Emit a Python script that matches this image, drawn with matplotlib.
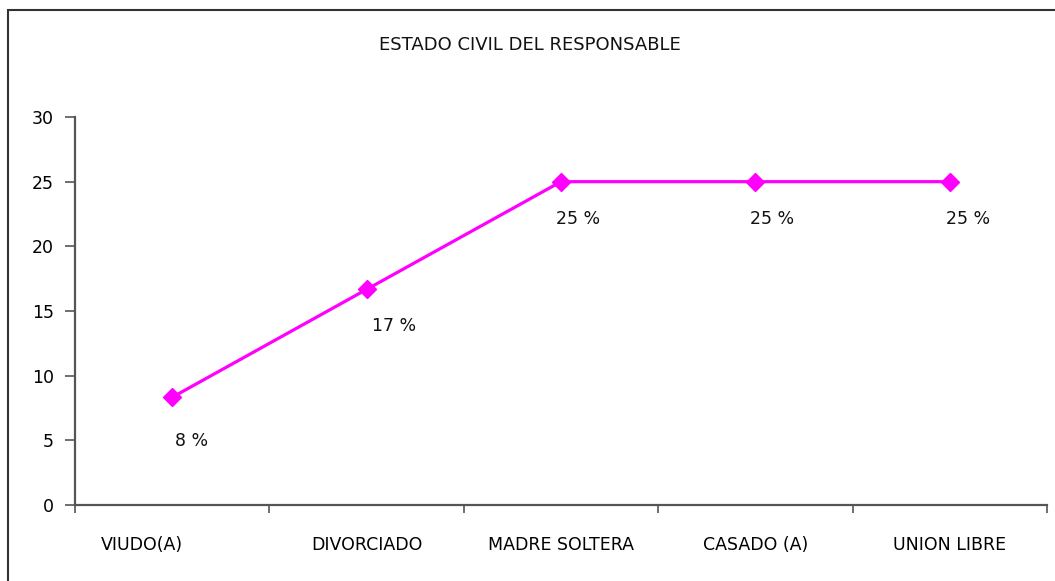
import matplotlib
matplotlib.use("Agg")
import matplotlib.pyplot as plt
from matplotlib.patches import Rectangle
from matplotlib.transforms import ScaledTranslation

categories = ["VIUDO(A)", "DIVORCIADO", "MADRE SOLTERA", "CASADO (A)", "UNION LIBRE"]
values = [8.33, 16.67, 25.0, 25.0, 25.0]
point_labels = ["8 %", "17 %", "25 %", "25 %", "25 %"]
y_ticks = [0, 5, 10, 15, 20, 25, 30]

W, H = 1055, 581
fig = plt.figure(figsize=(W / 100, H / 100), dpi=100)
fig.patch.set_facecolor("white")

# outer chart frame (only left/top edges visible in the reference)
fig.patches.append(
    Rectangle((8 / W, -0.05), 1.1, 1 - 10 / H + 0.05, transform=fig.transFigure,
              fill=False, edgecolor="#333333", linewidth=1.5)
)

left, right = 75 / W, 1047 / W
bottom, top = 1 - 505 / H, 1 - 117 / H
ax = fig.add_axes([left, bottom, right - left, top - bottom])

x = list(range(len(categories)))
ax.plot(x, values, color="#ff00ff", linewidth=2.3, marker="D",
        markersize=9, markerfacecolor="#ff00ff", markeredgecolor="#ff00ff",
        clip_on=False, zorder=3)

offsets = [(19, -44), (27, -37), (17, -37), (17, -37), (18, -37)]
for xi, v, lab, off in zip(x, values, point_labels, offsets):
    ax.annotate(lab, (xi, v), xytext=off, textcoords="offset pixels",
                ha="center", va="center", fontsize=12.5, color="#111111")

ax.set_xlim(-0.5, len(categories) - 0.5)
ax.set_ylim(0, 30)
ax.set_yticks(y_ticks)
ax.set_xticks([i - 0.5 for i in range(len(categories) + 1)])
ax.set_xticklabels([])
ax.set_xticks(x, minor=True)
ax.set_xticklabels(categories, minor=True)
ax.tick_params(axis="x", which="minor", length=0, pad=22, labelsize=12.5)
ax.tick_params(axis="x", which="major", length=6, width=1.2, color="#555555", direction="out")
ax.tick_params(axis="y", length=7, width=1.2, color="#555555", labelsize=12.5, pad=8)

# first category label sits left of its point in the reference
lbl = ax.get_xticklabels(minor=True)[0]
lbl.set_transform(lbl.get_transform() + ScaledTranslation(-0.30, 0, fig.dpi_scale_trans))

for s in ["top", "right"]:
    ax.spines[s].set_visible(False)
for s in ["left", "bottom"]:
    ax.spines[s].set_color("#555555")
    ax.spines[s].set_linewidth(1.6)

fig.text(0.502, 1 - 45 / H, "ESTADO CIVIL DEL RESPONSABLE", ha="center", va="center",
         fontsize=13, color="#111111")

fig.savefig("out.png", dpi=100)
